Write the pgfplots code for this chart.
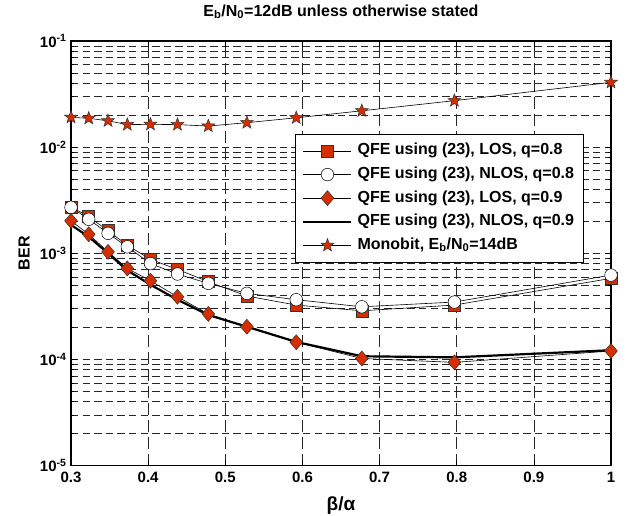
\documentclass[border=0pt]{standalone}
\usepackage{fontspec}
\setmainfont{Liberation Sans}
\usepackage{pgfplots}
\pgfplotsset{compat=1.18}
\usetikzlibrary{calc,plotmarks}
\definecolor{mred}{RGB}{214,46,0}

\pgfdeclareplotmark{fstar}{%
 \pgfpathmoveto{\pgfpointpolar{90}{\pgfplotmarksize}}%
 \pgfpathlineto{\pgfpointpolar{126}{0.42\pgfplotmarksize}}%
 \pgfpathlineto{\pgfpointpolar{162}{\pgfplotmarksize}}%
 \pgfpathlineto{\pgfpointpolar{198}{0.42\pgfplotmarksize}}%
 \pgfpathlineto{\pgfpointpolar{234}{\pgfplotmarksize}}%
 \pgfpathlineto{\pgfpointpolar{270}{0.42\pgfplotmarksize}}%
 \pgfpathlineto{\pgfpointpolar{306}{\pgfplotmarksize}}%
 \pgfpathlineto{\pgfpointpolar{342}{0.42\pgfplotmarksize}}%
 \pgfpathlineto{\pgfpointpolar{18}{\pgfplotmarksize}}%
 \pgfpathlineto{\pgfpointpolar{54}{0.42\pgfplotmarksize}}%
 \pgfpathclose
 \pgfusepathqfillstroke}
\pgfdeclareplotmark{mdiamond}{%
 \pgfpathmoveto{\pgfpoint{0pt}{\pgfplotmarksize}}%
 \pgfpathlineto{\pgfpoint{0.85\pgfplotmarksize}{0pt}}%
 \pgfpathlineto{\pgfpoint{0pt}{-\pgfplotmarksize}}%
 \pgfpathlineto{\pgfpoint{-0.85\pgfplotmarksize}{0pt}}%
 \pgfpathclose
 \pgfusepathqfillstroke}

\begin{document}
\begin{tikzpicture}
\begin{axis}[
  name=ax, scale only axis, width=540pt, height=424.5pt,
  clip=false,
  xmin=0.3, xmax=1, ymode=log, ymin=1e-5, ymax=1e-1,
  xtick={0.3,0.4,0.5,0.6,0.7,0.8,0.9,1},
  xticklabels={0.3,0.4,0.5,0.6,0.7,0.8,0.9,1},
  ytick={1e-5,1e-4,1e-3,1e-2,1e-1},
  yticklabels={10\textsuperscript{-5},10\textsuperscript{-4},10\textsuperscript{-3},10\textsuperscript{-2},10\textsuperscript{-1}},
  minor ytick={2e-5,3e-5,4e-5,5e-5,6e-5,7e-5,8e-5,9e-5,
               2e-4,3e-4,4e-4,5e-4,6e-4,7e-4,8e-4,9e-4,
               2e-3,3e-3,4e-3,5e-3,6e-3,7e-3,8e-3,9e-3,
               2e-2,3e-2,4e-2,5e-2,6e-2,7e-2,8e-2,9e-2},
  grid=both,
  x grid style={dash pattern=on 12pt off 5pt, black!85, line width=0.5pt},
  y grid style={dash pattern=on 7.3pt off 4.3pt, black!85, line width=0.5pt},
  tick align=inside,
  major tick length=6pt, minor tick length=3pt,
  every tick/.style={black, line width=0.6pt},
  axis line style={line width=1.4pt},
  tick label style={font=\fontsize{15}{18}\selectfont\bfseries},
  xticklabel style={yshift=-3pt},
  yticklabel style={xshift=-1pt},
  title={E\textsubscript{b}/N\textsubscript{0}=12dB unless otherwise stated},
  title style={font=\fontsize{16}{19}\selectfont\bfseries, at={(axis description cs:0.5,1)}, anchor=base, yshift=19pt},
  xlabel={β/α},
  xlabel style={font=\fontsize{19}{22}\selectfont\bfseries, at={(axis description cs:0.5,-0.0942)}, anchor=center},
  ylabel={BER},
  ylabel style={font=\fontsize{16}{19}\selectfont\bfseries, at={(axis description cs:-0.087,0.5)}, anchor=center},
  legend style={at={(0.949,0.782)}, anchor=north east, draw=black, line width=0.8pt, fill=white,
    font=\fontsize{16}{19}\selectfont\bfseries, cells={anchor=west},
    inner xsep=7pt, inner ysep=7pt, row sep=3.6pt,
    nodes={inner sep=2pt, text height=12pt, text depth=4pt},
    /tikz/every odd column/.append style={column sep=3pt}},
  legend image code/.code={\draw[mark repeat=2,mark phase=2,#1] plot coordinates {(0pt,0pt) (24pt,0pt) (48pt,0pt)};},
]
\addplot[black, line width=0.6pt, mark=square*, mark size=6pt, mark options={fill=mred, draw=black!80, line width=0.5pt}]
 coordinates {(0.3,2.74e-3) (0.323,2.21e-3) (0.348,1.63e-3) (0.373,1.19e-3) (0.403,8.76e-4) (0.438,7.05e-4)
  (0.478,5.39e-4) (0.528,3.95e-4) (0.592,3.25e-4) (0.677,2.87e-4) (0.797,3.25e-4) (1.0,5.8e-4)};
\addlegendentry{QFE using (23), LOS, q=0.8}
\addplot[black, line width=0.6pt, mark=*, mark size=6.3pt, mark options={fill=white, draw=black, line width=0.5pt}]
 coordinates {(0.3,2.71e-3) (0.323,2.09e-3) (0.348,1.54e-3) (0.373,1.15e-3) (0.403,8.0e-4) (0.438,6.37e-4)
  (0.478,5.2e-4) (0.528,4.19e-4) (0.592,3.65e-4) (0.677,3.13e-4) (0.797,3.47e-4) (1.0,6.23e-4)};
\addlegendentry{QFE using (23), NLOS, q=0.8}
\addplot[black, line width=0.6pt, mark=mdiamond, mark size=7.5pt, mark options={fill=mred, draw=black!80, line width=0.5pt}]
 coordinates {(0.3,2.02e-3) (0.323,1.51e-3) (0.348,1.03e-3) (0.373,7.19e-4) (0.403,5.51e-4) (0.438,3.89e-4)
  (0.478,2.68e-4) (0.528,2.03e-4) (0.592,1.45e-4) (0.677,1.02e-4) (0.797,9.37e-5) (1.0,1.2e-4)};
\addlegendentry{QFE using (23), LOS, q=0.9}
\addplot[black, line width=2.2pt, no marks]
 coordinates {(0.3,1.85e-3) (0.323,1.43e-3) (0.348,1.0e-3) (0.373,6.9e-4) (0.403,5.05e-4) (0.438,3.65e-4)
  (0.478,2.62e-4) (0.528,2.03e-4) (0.592,1.46e-4) (0.677,1.07e-4) (0.797,1.045e-4) (1.0,1.22e-4)};
\addlegendentry{QFE using (23), NLOS, q=0.9}
\addplot[black, line width=0.6pt, mark=fstar, mark size=6.8pt, mark options={fill=mred, draw=black!80, line width=0.5pt}]
 coordinates {(0.3,1.91e-2) (0.323,1.87e-2) (0.348,1.77e-2) (0.373,1.63e-2) (0.403,1.64e-2) (0.438,1.63e-2)
  (0.478,1.58e-2) (0.528,1.70e-2) (0.592,1.89e-2) (0.677,2.20e-2) (0.797,2.74e-2) (1.0,4.08e-2)};
\addlegendentry{Monobit, E\textsubscript{b}/N\textsubscript{0}=14dB}
\end{axis}
\pgfresetboundingbox
\path ($(ax.south west)+(-71pt,-50.5pt)$) rectangle ($(ax.north east)+(20pt,41pt)$);
\end{tikzpicture}
\end{document}
